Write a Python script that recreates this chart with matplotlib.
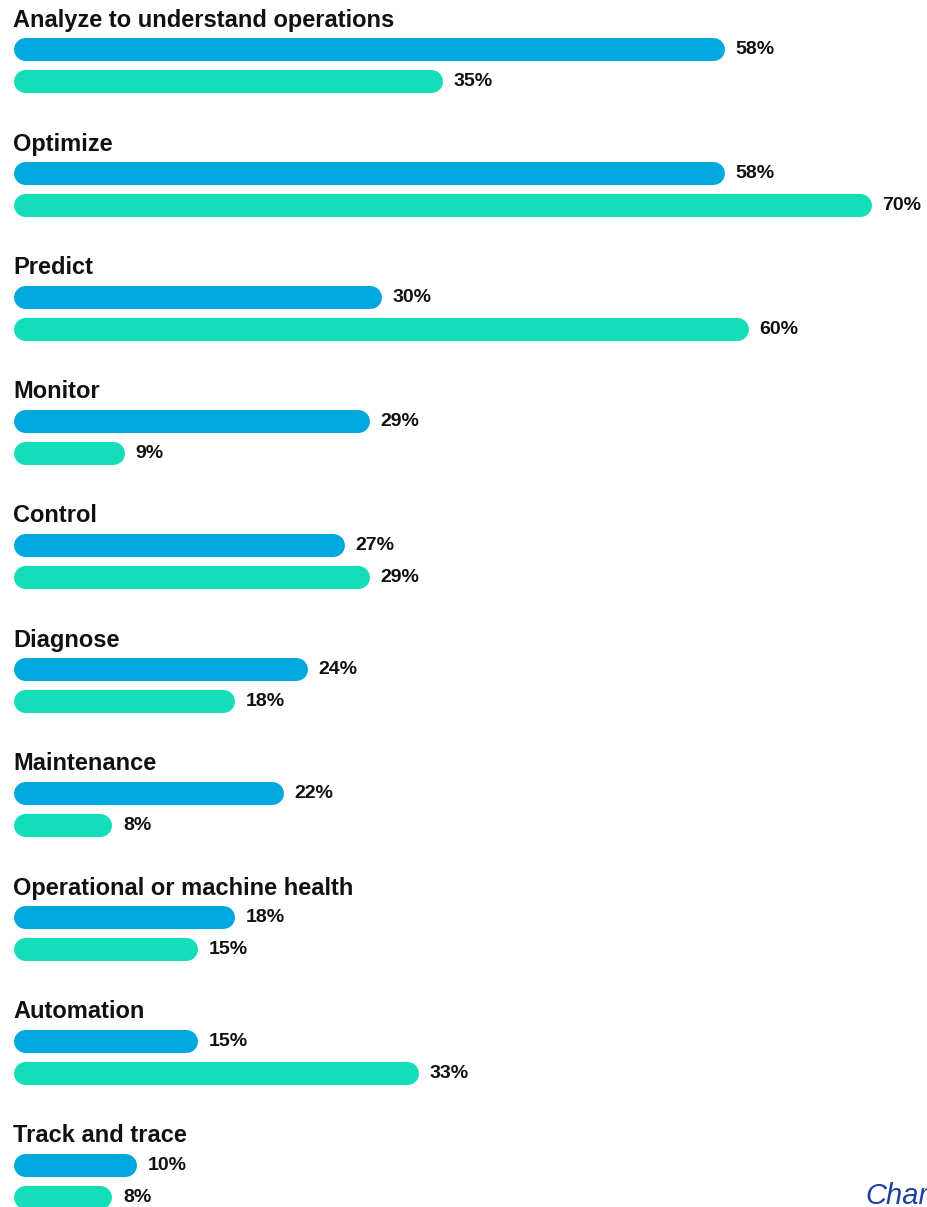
import matplotlib.pyplot as plt

categories = ["Analyze to understand operations", "Optimize", "Predict", "Monitor",
              "Control", "Diagnose", "Maintenance", "Operational or machine health",
              "Automation", "Track and trace"]
series_a = [58, 58, 30, 29, 27, 24, 22, 18, 15, 10]
series_b = [35, 70, 60, 9, 29, 18, 8, 15, 33, 8]

blue = "#00a8e0"
teal = "#14ddba"

W, H = 928, 1207
px_per_pct = 12.243
x0_px = 14
bar_px = 23
group_px = 124

fig = plt.figure(figsize=(W / 100, H / 100), dpi=100)
ax = fig.add_axes([0, 0, 1, 1])
ax.set_xlim(-x0_px / px_per_pct, (W - x0_px) / px_per_pct)
ax.set_ylim(H, 0)
ax.axis("off")

lw = bar_px * 72 / 100          # bar thickness in points
r = bar_px / 2 / px_per_pct     # half of the cap, in percent units
gap = 11 / px_per_pct
font = "Liberation Sans"

def bar(value, y, color):
    ax.plot([r, value - r], [y, y], color=color, lw=lw, solid_capstyle="round")
    ax.text(value + gap, y + 1, f"{value}%", fontsize=14, fontweight="bold",
            family=font, va="center", ha="left", color="#111111")

for i, name in enumerate(categories):
    top = i * group_px
    ax.text(-1 / px_per_pct, top + 26.5, name, fontsize=17, fontweight="bold",
            family=font, va="baseline", ha="left", color="#111111")
    bar(series_a[i], top + 48.5, blue)
    bar(series_b[i], top + 80.5, teal)

ax.text((865 - x0_px) / px_per_pct, 1204, "Chart", fontsize=21, style="italic",
        family=font, va="baseline", ha="left", color="#1f3fa5", clip_on=False)

fig.savefig("out.png", dpi=100)
